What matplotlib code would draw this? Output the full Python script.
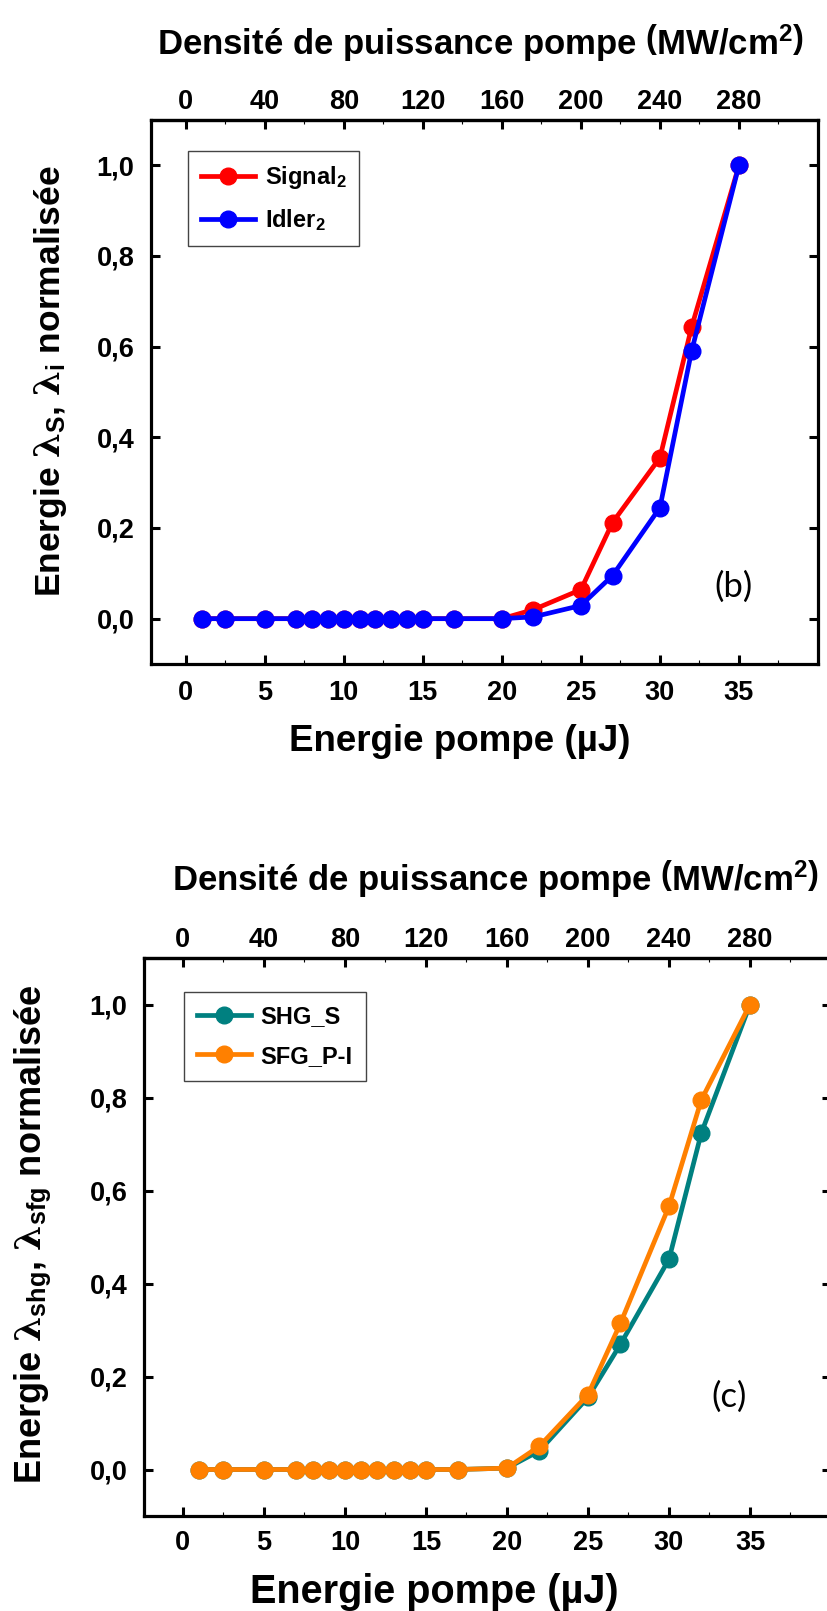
import matplotlib
matplotlib.use('Agg')
import matplotlib.pyplot as plt
from matplotlib.ticker import FixedLocator, MultipleLocator

plt.rcParams['font.family'] = ['Liberation Sans', 'DejaVu Sans']
plt.rcParams['font.weight'] = 'bold'
plt.rcParams['mathtext.fontset'] = 'custom'
plt.rcParams['mathtext.rm'] = 'Liberation Sans:bold'
plt.rcParams['mathtext.bf'] = 'Liberation Sans:bold'
plt.rcParams['mathtext.it'] = 'DejaVu Serif'

# ---------------- data ----------------
energy = [1, 2.5, 5, 7, 8, 9, 10, 11, 12, 13, 14, 15, 17, 20, 22, 25, 27, 30, 32, 35]
signal2 = [0, 0, 0, 0, 0, 0, 0, 0, 0, 0, 0, 0, 0, 0, 0.02, 0.064, 0.212, 0.355, 0.643, 1.0]
idler2 = [0, 0, 0, 0, 0, 0, 0, 0, 0, 0, 0, 0, 0, 0, 0.004, 0.029, 0.095, 0.245, 0.59, 1.0]
shg_s = [0, 0, 0, 0, 0, 0, 0, 0, 0, 0, 0, 0, 0, 0.003, 0.04, 0.155, 0.269, 0.452, 0.724, 1.0]
sfg_pi = [0, 0, 0, 0, 0, 0, 0, 0, 0, 0, 0, 0, 0, 0.003, 0.05, 0.161, 0.314, 0.566, 0.795, 1.0]

energy_ticks = [0, 5, 10, 15, 20, 25, 30, 35]
energy_ticklabels = ['0', '5', '10', '15', '20', '25', '30', '35']
density_ticks = [0, 40, 80, 120, 160, 200, 240, 280]
density_ticklabels = ['0', '40', '80', '120', '160', '200', '240', '280']
y_ticks = [0.0, 0.2, 0.4, 0.6, 0.8, 1.0]
y_ticklabels = ['0,0', '0,2', '0,4', '0,6', '0,8', '1,0']
density_per_energy = 8.0  # MW/cm2 per uJ

fig = plt.figure(figsize=(8.28, 16.11), dpi=100)

TICK_FS = 19.5


def panel(rect, xlim, series, ylabel, letter, letter_xy, leg_anchor, p):
    ax = fig.add_axes(rect)
    for y, color, lab in series:
        ax.plot(energy, y, '-o', color=color, lw=3.4, ms=12, label=lab,
                clip_on=False)
    ax.set_xlim(*xlim)
    ax.set_ylim(-0.1, 1.1)
    ax.xaxis.set_major_locator(FixedLocator(energy_ticks))
    ax.set_xticklabels(energy_ticklabels)
    ax.xaxis.set_minor_locator(MultipleLocator(2.5))
    ax.yaxis.set_major_locator(FixedLocator(y_ticks))
    ax.set_yticklabels(y_ticklabels)
    for s in ax.spines.values():
        s.set_linewidth(2.3)
    ax.tick_params(which='major', direction='in', length=6.5, width=2.2,
                   labelsize=TICK_FS, right=True, top=False)
    ax.tick_params(axis='x', which='major', pad=p['xtickpad'])
    ax.tick_params(axis='y', which='major', pad=12)
    ax.tick_params(which='minor', direction='in', length=3, width=0.8,
                   right=False, top=False, left=False)
    ax.set_xlabel('Energie pompe (µJ)', fontsize=p['xlabelfs'], fontweight='bold',
                  labelpad=p['xlabelpad'])
    ax.xaxis.label.set_x(p['xlabel_x'])
    ax.set_ylabel(ylabel, fontsize=p['ylabelfs'], fontweight='bold',
                  labelpad=p['ylabelpad'])
    ax.yaxis.label.set_y(p['ylabel_y'])

    sec = ax.secondary_xaxis('top', functions=(lambda e: e * density_per_energy,
                                               lambda d: d / density_per_energy))
    sec.set_xticks(density_ticks)
    sec.set_xticklabels(density_ticklabels)
    sec.xaxis.set_minor_locator(MultipleLocator(20))
    sec.tick_params(which='major', direction='in', length=6.5, width=2.2,
                    labelsize=TICK_FS, pad=3.5)
    sec.tick_params(which='minor', direction='in', length=3, width=0.8)
    for s in sec.spines.values():
        s.set_linewidth(2.3)
    sec.set_xlabel('Densité de puissance pompe $\\left(\\mathrm{MW/cm}^{\\mathbf{2}}\\right)$',
                   fontsize=25, fontweight='bold', labelpad=p['toplabelpad'])
    sec.xaxis.label.set_x(p['toplabel_x'])

    leg = ax.legend(loc='upper left', bbox_to_anchor=leg_anchor, borderaxespad=0,
                    frameon=True, fancybox=False, edgecolor='#444444',
                    framealpha=1, prop={'weight': 'bold', 'size': 17},
                    handlelength=2.3, handletextpad=0.4, borderpad=0.55,
                    labelspacing=0.7)
    leg.get_frame().set_linewidth(1.0)

    ax.text(letter_xy[0], letter_xy[1], letter, transform=ax.transAxes,
            fontsize=25, fontweight='normal', family='Lato',
            ha='center', va='center')
    return ax


# top panel (b)
panel([151 / 828, 1 - 664 / 1611, 667 / 828, 544 / 1611], (-2.2, 40),
      [(signal2, '#FF0000', 'Signal$_{\\mathbf{2}}$'),
       (idler2, '#0000FF', 'Idler$_{\\mathbf{2}}$')],
      'Energie $\\lambda_{\\mathbf{S}}$, $\\lambda_{\\mathbf{i}}$ normalisée',
      '(b)', ((734 - 151) / 667, (664 - 587) / 544), (0.0555, 0.943),
      dict(xtickpad=11.5, xlabelfs=26.5, xlabelpad=13, xlabel_x=0.463,
           ylabelfs=25.5, ylabelpad=20, ylabel_y=0.52, toplabelpad=25,
           toplabel_x=0.494))

# bottom panel (c)
panel([144 / 828, 1 - 1516 / 1611, 687 / 828, 558 / 1611], (-2.4, 40),
      [(shg_s, '#008080', 'SHG_S'),
       (sfg_pi, '#FF8000', 'SFG_P-I')],
      'Energie $\\lambda_{\\mathbf{shg}}$, $\\lambda_{\\mathbf{sfg}}$ normalisée',
      '(c)', ((729 - 144) / 687, (1516 - 1397) / 558), (0.058, 0.939),
      dict(xtickpad=10, xlabelfs=28.5, xlabelpad=12, xlabel_x=0.423,
           ylabelfs=26, ylabelpad=26, ylabel_y=0.505, toplabelpad=26,
           toplabel_x=0.512))

fig.savefig('out.png', dpi=100)
